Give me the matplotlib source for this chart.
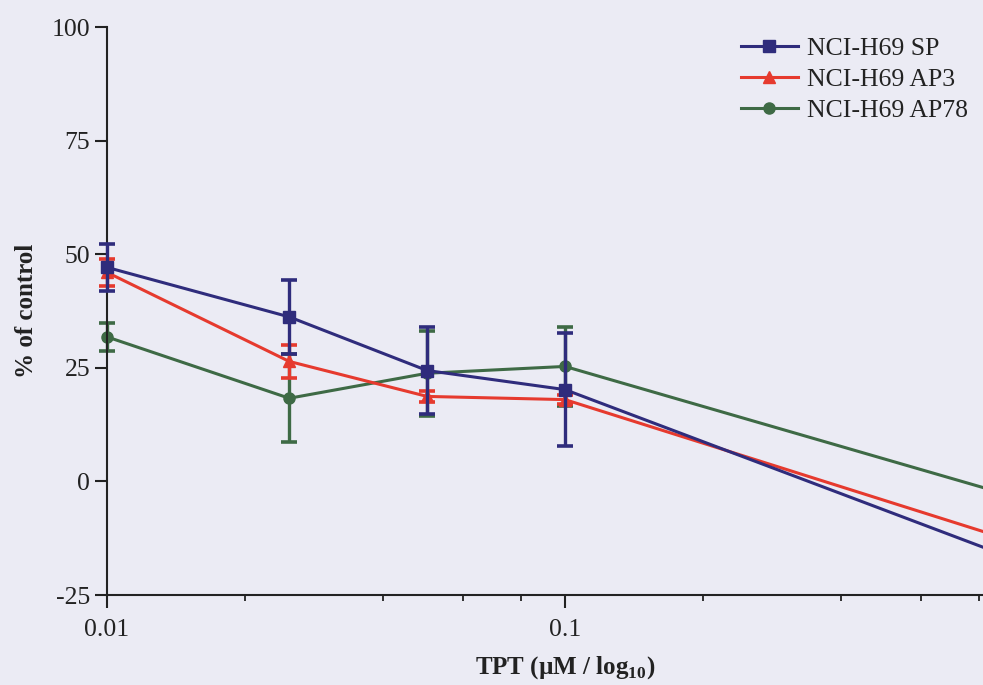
import matplotlib
matplotlib.use("Agg")
import matplotlib.pyplot as plt
from matplotlib.ticker import FixedLocator, NullFormatter
from matplotlib.lines import Line2D

# TPT concentrations (µM) and response as % of control
conc = [0.01, 0.025, 0.05, 0.1, 1.0]

sp_mean = [47.1, 36.2, 24.4, 20.2, -17.8]
sp_err = [5.2, 8.2, 9.5, 12.4, 2.0]

ap3_mean = [46.0, 26.4, 18.7, 18.0, -13.8]
ap3_err = [3.0, 3.7, 1.3, 1.0, 2.0]

ap78_mean = [31.8, 18.3, 23.8, 25.3, -3.9]
ap78_err = [3.0, 9.7, 9.3, 8.6, 2.0]

series_names = ["NCI-H69 SP", "NCI-H69 AP3", "NCI-H69 AP78"]
y_ticks = [-25, 0, 25, 50, 75, 100]
x_ticks = [0.01, 0.1, 1]
x_tick_labels = ["0.01", "0.1", ""]

bg = "#ebebf4"
c_sp = "#2f2c7c"
c_ap3 = "#e63a2e"
c_ap78 = "#3e6a45"
ink = "#222222"

plt.rcParams["font.family"] = ["Liberation Serif", "DejaVu Serif"]
plt.rcParams["mathtext.fontset"] = "custom"
plt.rcParams["mathtext.rm"] = "Liberation Serif"
plt.rcParams["mathtext.bf"] = "Liberation Serif:bold"

W, H = 983, 685
fig = plt.figure(figsize=(W / 100, H / 100), dpi=100, facecolor=bg)
left, right = 107 / W, 1023 / W
bottom, top = 1 - 595 / H, 1 - 27 / H
ax = fig.add_axes([left, bottom, right - left, top - bottom])
ax.set_facecolor(bg)

styles = [
    (ap78_mean, ap78_err, c_ap78, "o", 8, 2),
    (ap3_mean, ap3_err, c_ap3, "^", 9, 3),
    (sp_mean, sp_err, c_sp, "s", 9, 4),
]
for mean, err, col, mk, ms, z in styles:
    cont = ax.errorbar(conc, mean, yerr=err, color=col, marker=mk, ms=ms,
                       lw=2.2, elinewidth=2.4, capsize=5.5, capthick=2.6,
                       zorder=z)
    cont.lines[0].set_clip_on(False)
    for art in list(cont.lines[1]) + list(cont.lines[2]):
        art.set_clip_on(False)

ax.set_xscale("log")
ax.set_xlim(0.01, 1)
ax.set_ylim(-25, 100)

ax.spines["top"].set_visible(False)
ax.spines["right"].set_visible(False)
for s in ("left", "bottom"):
    ax.spines[s].set_linewidth(1.5)
    ax.spines[s].set_color(ink)

ax.yaxis.set_major_locator(FixedLocator(y_ticks))
ax.set_yticklabels([str(v) for v in y_ticks])
ax.xaxis.set_major_locator(FixedLocator(x_ticks))
ax.set_xticklabels(x_tick_labels)
ax.xaxis.set_minor_locator(FixedLocator([0.02, 0.04, 0.06, 0.08, 0.2, 0.4, 0.6, 0.8]))
ax.xaxis.set_minor_formatter(NullFormatter())

ax.tick_params(axis="y", which="major", direction="out", length=9, width=1.5,
               labelsize=18.5, pad=3, colors=ink)
ax.tick_params(axis="x", which="major", direction="out", length=9, width=1.5,
               labelsize=18.5, pad=8, colors=ink)
ax.tick_params(axis="x", which="minor", direction="out", length=4, width=1.3,
               colors=ink)

ax.set_xlabel(r"TPT (µM / log$_{\mathbf{10}}$)", fontsize=18,
              fontweight="bold", labelpad=10, color=ink)
ax.set_ylabel("% of control", fontsize=18, fontweight="bold", labelpad=10,
              color=ink)

handles = [
    Line2D([], [], color=c_sp, marker="s", ms=9, lw=2.2),
    Line2D([], [], color=c_ap3, marker="^", ms=9, lw=2.2),
    Line2D([], [], color=c_ap78, marker="o", ms=8, lw=2.2),
]
leg = ax.legend(handles, series_names, loc="upper left",
                bbox_to_anchor=(741 / W, 1 - 37 / H), bbox_transform=fig.transFigure,
                frameon=False, fontsize=18.5, handlelength=2.2, handletextpad=0.35,
                labelspacing=0.32, borderaxespad=0, borderpad=0)
for t in leg.get_texts():
    t.set_color(ink)

fig.savefig("out.png", dpi=100, facecolor=bg)
